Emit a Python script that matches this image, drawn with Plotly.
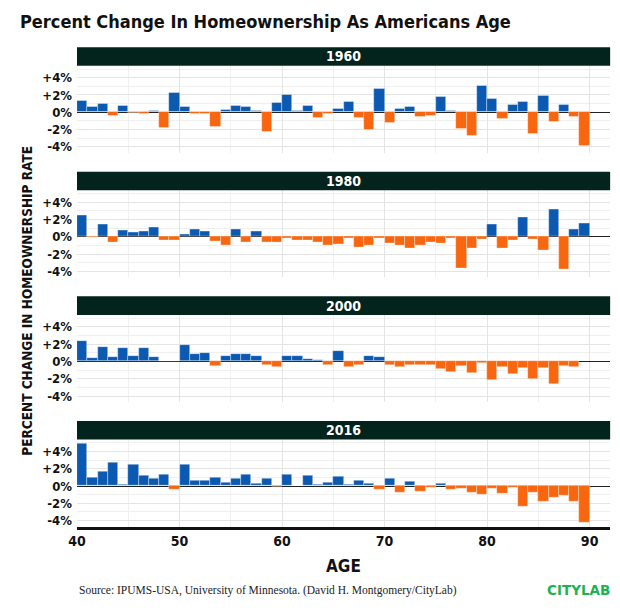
import plotly.graph_objects as go

ages = list(range(40, 90))
years = ["1960", "1980", "2000", "2016"]

chg_1960 = [1.35, 0.6, 0.95, -0.42, 0.73, -0.1, -0.23, 0.15, -1.85, 2.23,
            0.6, -0.23, -0.2, -1.73, 0.27, 0.73, 0.65, 0.19, -2.2, 1.08,
            2.08, 0.15, 0.73, -0.65, -0.12, 0.38, 1.27, -0.69, -2.0, 2.69,
            -1.23, 0.42, 0.69, -0.5, -0.46, 1.77, 0.15, -1.96, -2.77, 3.08,
            1.54, -0.81, 0.81, 1.23, -2.5, 1.92, -1.12, 0.85, -0.5, -3.88]
chg_1980 = [2.46, -0.1, 1.42, -0.62, 0.73, 0.54, 0.69, 1.08, -0.46, -0.46,
            0.31, 0.85, 0.62, -0.5, -1.0, 0.85, -0.69, 0.62, -0.58, -0.62,
            -0.23, -0.46, -0.46, -0.58, -1.04, -0.88, -0.23, -1.23, -1.04, -0.23,
            -0.73, -0.96, -1.38, -1.04, -0.62, -0.77, -0.15, -3.62, -1.31, -0.3,
            1.46, -1.38, -0.46, 2.23, -0.3, -1.62, 3.23, -3.81, 0.92, 1.54]
chg_2000 = [2.38, 0.35, 1.65, 0.54, 1.58, 0.69, 1.54, 0.5, 0.08, 0.08,
            1.92, 0.81, 1.0, -0.5, 0.69, 0.81, 0.92, 0.58, -0.46, -0.58,
            0.69, 0.62, 0.31, 0.19, -0.42, 1.2, -0.69, -0.38, 0.62, 0.5,
            -0.46, -0.69, -0.42, -0.46, -0.42, -0.85, -1.19, -0.54, -1.38, -0.23,
            -2.12, -0.62, -1.5, -0.77, -2.04, -0.81, -2.62, -0.5, -0.62, None]
chg_2016 = [4.92, 0.96, 1.73, 2.77, 0.19, 2.54, 1.27, 0.85, 1.31, -0.35,
            2.46, 0.69, 0.65, 0.96, 0.38, 0.85, 1.38, 0.31, 0.88, -0.08,
            1.31, 0.1, 1.23, 0.23, 0.46, 1.15, 0.15, 0.62, 0.31, -0.46,
            0.85, -0.73, 0.54, -0.69, -0.23, 0.27, -0.46, -0.31, -0.73, -1.0,
            -0.27, -0.88, -0.15, -2.42, -0.81, -1.77, -1.38, -1.15, -1.81, -4.23]
series = [chg_1960, chg_1980, chg_2000, chg_2016]

y_tickvals = [-4, -2, 0, 2, 4]
y_ticktext = ["-4%", "-2%", "0%", "+2%", "+4%"]
x_tickvals = [40, 50, 60, 70, 80, 90]

BLUE = "#0b59b1"
ORANGE = "#f8660f"
STRIP = "#03241c"
COND = "DejaVu Sans Condensed, Liberation Sans Narrow, sans-serif"

W, H = 620, 611
def px(yp):
    return 1 - yp / H

x0p, x1p = 69, 610
panel_tops = [66, 191, 316, 441]
panel_h = 87.3
strip_h = 18.7

fig = go.Figure()
shapes = []
annotations = []
for i, (yr, vals) in enumerate(zip(years, series)):
    n = i + 1
    xa = "x" if n == 1 else f"x{n}"
    ya = "y" if n == 1 else f"y{n}"
    colors = [BLUE if (v is not None and v >= 0) else ORANGE for v in vals]
    fig.add_trace(go.Bar(
        x=[a + 0.5 for a in ages], y=vals, width=1.0,
        marker=dict(color=colors, line=dict(color="rgba(255,255,255,0.6)", width=0.6)),
        xaxis=xa, yaxis=ya, showlegend=False, hoverinfo="x+y"))
    top = panel_tops[i]
    bot = top + panel_h
    xkey = "xaxis" if n == 1 else f"xaxis{n}"
    ykey = "yaxis" if n == 1 else f"yaxis{n}"
    fig.update_layout(**{
        xkey: dict(domain=[x0p / W, x1p / W], range=[40, 92], anchor=ya,
                   tickvals=x_tickvals, showticklabels=(n == 4),
                   showgrid=True, gridcolor="#e4e4e4", gridwidth=1,
                   minor=dict(dtick=5, tick0=40, showgrid=True, gridcolor="#f0f0f0", gridwidth=1),
                   zeroline=False, ticks="",
                   showline=(n == 4), linecolor="#111111", linewidth=3,
                   tickfont=dict(family=COND, size=14, color="#111111", weight="bold"),
                   fixedrange=True),
        ykey: dict(domain=[px(bot), px(top)], range=[-4.69, 5.38], anchor=xa,
                   tickvals=y_tickvals, ticktext=y_ticktext,
                   showgrid=True, gridcolor="#e4e4e4", gridwidth=1,
                   minor=dict(dtick=1, tick0=0, showgrid=True, gridcolor="#efefef", gridwidth=1),
                   zeroline=True, zerolinecolor="#222222", zerolinewidth=1.2,
                   ticks="", ticklabelstandoff=4,
                   tickfont=dict(family=COND, size=13, color="#111111", weight="bold"),
                   fixedrange=True),
    })
    shapes.append(dict(type="rect", xref="paper", yref="paper",
                       x0=x0p / W, x1=x1p / W, y0=px(top), y1=px(top - strip_h),
                       fillcolor=STRIP, line=dict(width=0), layer="above"))
    annotations.append(dict(text=yr, xref="paper", yref="paper",
                            x=(x0p + x1p) / 2 / W, y=px(top - strip_h / 2),
                            xanchor="center", yanchor="middle", showarrow=False,
                            font=dict(family=COND, size=14, color="white", weight="bold")))

annotations += [
    dict(text="Percent Change In Homeownership As Americans Age", xref="paper", yref="paper",
         x=9 / W, y=px(22), xanchor="left", yanchor="middle", showarrow=False,
         font=dict(family=COND, size=18, color="#111111", weight="bold")),
    dict(text="PERCENT CHANGE IN HOMEOWNERSHIP RATE", xref="paper", yref="paper",
         x=18 / W, y=px(302), xanchor="center", yanchor="middle", showarrow=False, textangle=-90,
         font=dict(family=COND, size=13.5, color="#111111", weight="bold")),
    dict(text="AGE", xref="paper", yref="paper",
         x=(x0p + x1p) / 2 / W, y=px(568), xanchor="center", yanchor="middle", showarrow=False,
         font=dict(family=COND, size=17, color="#111111", weight="bold")),
    dict(text="Source: IPUMS-USA, University of Minnesota. (David H. Montgomery/CityLab)",
         xref="paper", yref="paper", x=69 / W, y=px(592), xanchor="left", yanchor="middle",
         showarrow=False, font=dict(family="Liberation Serif, serif", size=11.5, color="#222222")),
    dict(text="CITYLAB", xref="paper", yref="paper", x=612 / W, y=px(592),
         xanchor="right", yanchor="middle", showarrow=False,
         font=dict(family="DejaVu Sans, sans-serif", size=13.5, color="#1fb150", weight="bold")),
]

fig.update_layout(width=W, height=H, margin=dict(l=0, r=0, t=0, b=0),
                  paper_bgcolor="white", plot_bgcolor="white",
                  bargap=0, shapes=shapes, annotations=annotations)
fig.write_html("out.html", config={"displayModeBar": False},
               post_script="document.body.style.margin='0';document.body.style.overflow='hidden';")
